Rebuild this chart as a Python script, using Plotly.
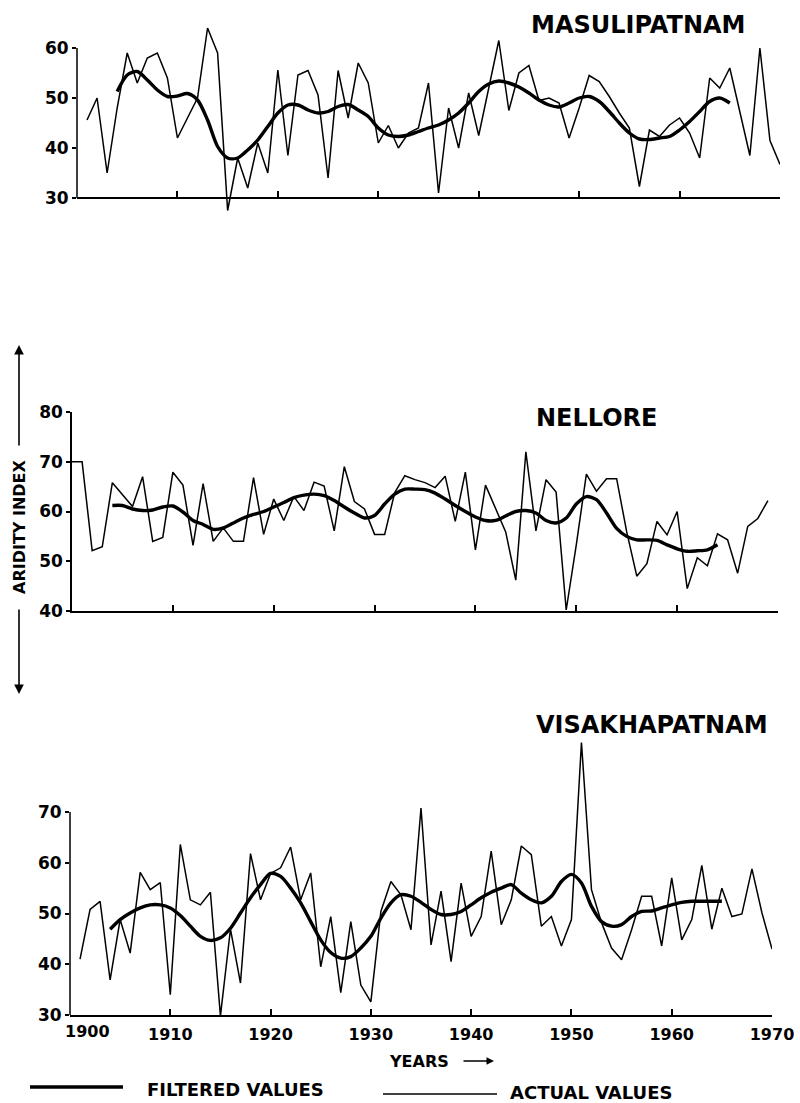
import plotly.graph_objects as go

W, H = 800, 1103

# ---------------- data ----------------
mas_years = list(range(1901, 1971))
mas_actual = [45.6, 50, 35, 48, 59, 53, 58, 59, 54, 42,
              46, 50, 64, 59, 27.5, 38, 32, 41, 35, 55.6,
              38.5, 54.6, 55.5, 50.6, 34, 55.5, 46, 57, 53, 41,
              44.5, 40, 43, 44, 53, 31, 48, 40, 51, 42.5,
              52, 61.5, 47.5, 55, 56.5, 49.5, 50, 49, 42, 48,
              54.5, 53.3, 50.3, 47, 44, 32.3, 43.6, 42.3, 44.6, 46,
              43, 38, 54, 52, 56, 47, 38.5, 60, 41.5, 36.7]
mas_f_years = list(range(1904, 1966))
mas_filtered = [51.3, 54.6, 55.3, 53.6, 51.6, 50.3, 50.4, 50.9, 49.6, 45.6,
                40.3, 38, 38, 39.6, 41.6, 44.3, 47, 48.6, 48.6, 47.6,
                47, 47.3, 48.3, 48.7, 47.6, 46.3, 44, 42.6, 42.3, 42.6,
                43.3, 44, 44.6, 45.6, 47, 49, 51.3, 52.8, 53.4, 53,
                52.2, 51, 49.6, 48.6, 48.2, 49, 50, 50.3, 49.3, 47.3,
                45, 43, 41.8, 41.7, 42, 42.3, 43.6, 45.3, 47.3, 49.3,
                50, 49]

nel_years = list(range(1900, 1970))
nel_actual = [70, 70, 52.1, 52.9, 65.8, 63.5, 61, 67, 54, 54.8,
              67.9, 65.3, 53.2, 65.6, 54, 56.7, 54, 54, 66.8, 55.4,
              62.5, 58.2, 63, 60.2, 65.9, 65.1, 56.1, 69, 62, 60.5,
              55.4, 55.4, 63.8, 67.2, 66.4, 65.8, 64.8, 67.1, 58, 67.9,
              52.3, 65.3, 60.5, 55.9, 46.2, 72, 56.1, 66.4, 63.9, 40.2,
              53.3, 67.5, 64.1, 66.6, 66.6, 55.9, 47, 49.5, 58, 55.3,
              60, 44.5, 50.7, 49.1, 55.5, 54.3, 47.6, 57, 58.6, 62.2]
nel_f_years = list(range(1904, 1965))
nel_filtered = [61.2, 61.2, 60.5, 60.2, 60.3, 60.9, 61.1, 59.9, 58.2, 57.4,
                56.4, 56.7, 57.7, 58.7, 59.4, 60, 60.9, 61.8, 62.8, 63.3,
                63.5, 63.2, 62.2, 60.9, 59.7, 58.7, 59.2, 61.5, 63.5, 64.5,
                64.5, 64.4, 63.7, 62.5, 61.2, 60, 58.9, 58.2, 58.2, 59.1,
                60, 60.2, 59.7, 58.2, 57.7, 58.7, 61.5, 63, 62.4, 59.7,
                56.6, 55, 54.3, 54.3, 54.2, 53.3, 52.5, 52, 52.1, 52.3,
                53.3]

vis_years = list(range(1901, 1971))
vis_actual = [41, 50.8, 52.4, 36.9, 48.8, 42.2, 58.1, 54.7, 56.1, 34,
              63.6, 52.7, 51.7, 54.2, 29.8, 46.9, 36.3, 61.8, 52.7, 57.9,
              59, 63.1, 52.7, 58, 39.5, 49.4, 34.4, 48.4, 35.9, 32.6,
              50.4, 56.3, 53.7, 46.8, 70.8, 43.8, 54.4, 40.5, 56, 45.5,
              49.4, 62.3, 47.8, 52.7, 63.3, 61.6, 47.5, 49.4, 43.6, 48.8,
              83.7, 54.7, 48.2, 43.2, 40.9, 46.8, 53.4, 53.4, 43.6, 57,
              44.8, 48.8, 59.5, 46.9, 55, 49.4, 49.9, 58.8, 50.1, 43]
vis_f_years = list(range(1904, 1966))
vis_filtered = [46.9, 48.8, 50.1, 51.1, 51.7, 51.7, 51.1, 49.6, 47.5, 45.5,
                44.7, 45.2, 47.1, 50.1, 53.1, 55.7, 57.9, 57.3, 55, 52.1,
                48.4, 44.8, 42.3, 41.2, 41.5, 43.2, 45.5, 49.1, 52.1, 53.7,
                53.4, 52.2, 50.8, 49.8, 49.8, 50.4, 51.7, 53.1, 54.2, 55,
                55.7, 54, 52.7, 52.1, 53.4, 56.3, 57.7, 56, 51.4, 48.4,
                47.5, 47.8, 49.4, 50.4, 50.5, 51.1, 51.7, 52.2, 52.4, 52.4,
                52.4, 52.4]

x_ticks = [1900, 1910, 1920, 1930, 1940, 1950, 1960, 1970]
x_ticktext = ["", "1910", "1920", "1930", "1940", "1950", "1960", "1970"]
first_year_label = "1900"
mas_yticks = [30, 40, 50, 60]
nel_yticks = [40, 50, 60, 70, 80]
vis_yticks = [30, 40, 50, 60, 70]
titles = ["MASULIPATNAM", "NELLORE", "VISAKHAPATNAM"]

# ---------------- figure ----------------
def px(x):
    return x / W


def py(y):
    return 1 - y / H


FONT = "DejaVu Sans"
fig = go.Figure()

panels = [
    ("x", "y", mas_years, mas_actual, mas_f_years, mas_filtered),
    ("x2", "y2", nel_years, nel_actual, nel_f_years, nel_filtered),
    ("x3", "y3", vis_years, vis_actual, vis_f_years, vis_filtered),
]
for xa, ya, yrs, act, fyrs, filt in panels:
    fig.add_trace(go.Scatter(x=yrs, y=act, mode="lines", xaxis=xa, yaxis=ya,
                             line=dict(color="black", width=1.5),
                             name="ACTUAL VALUES", showlegend=False))
    fig.add_trace(go.Scatter(x=fyrs, y=filt, mode="lines", xaxis=xa, yaxis=ya,
                             line=dict(color="black", width=3.4, shape="spline", smoothing=0.8),
                             name="FILTERED VALUES", showlegend=False))

xcommon = dict(range=[1900, 1970], tickvals=x_ticks, ticktext=x_ticktext,
               ticks="inside", ticklen=6, automargin=False,
               tickwidth=1.5, tickcolor="black", showline=True, linecolor="black",
               linewidth=1.5, showgrid=False, zeroline=False, fixedrange=True)
ycommon = dict(ticks="outside", ticklen=4, tickwidth=1.5, tickcolor="black",
               showgrid=False, zeroline=False, fixedrange=True, automargin=False,
               tickfont=dict(family=FONT, size=17, color="black", weight="bold"))

fig.update_layout(
    template="none",
    width=W, height=H,
    margin=dict(l=0, r=0, t=0, b=0, pad=0, autoexpand=False),
    paper_bgcolor="white", plot_bgcolor="white",
    font=dict(family=FONT, color="black"),
    xaxis=dict(**xcommon, domain=[px(77), px(780)], anchor="free",
               position=py(198), showticklabels=False),
    yaxis=dict(**ycommon, domain=[py(223), py(18)], range=[25, 66],
               tickvals=mas_yticks, anchor="x", showline=False),
    xaxis2=dict(**xcommon, domain=[px(72), px(778)], anchor="y2", showticklabels=False),
    yaxis2=dict(**ycommon, domain=[py(611), py(412)], range=[40, 80],
                tickvals=nel_yticks, anchor="x2", showline=True,
                linecolor="black", linewidth=1.5),
    xaxis3=dict(**xcommon, domain=[px(70), px(772)], anchor="y3", showticklabels=True,
                ticklabelstandoff=4,
                tickfont=dict(family=FONT, size=16, color="black", weight="bold")),
    yaxis3=dict(**ycommon, domain=[py(1015), py(730.8)], range=[30, 86],
                tickvals=vis_yticks, anchor="x3", showline=False),
)

shapes = [
    dict(type="line", xref="x domain", yref="y", x0=0, x1=0, y0=30, y1=60,
         line=dict(color="black", width=1.5)),
    dict(type="line", xref="x3 domain", yref="y3", x0=0, x1=0, y0=30, y1=70,
         line=dict(color="black", width=1.5)),
    # legend samples
    dict(type="line", xref="paper", yref="paper", x0=px(30), x1=px(123),
         y0=py(1087), y1=py(1087), line=dict(color="black", width=3.4)),
    dict(type="line", xref="paper", yref="paper", x0=px(383), x1=px(497),
         y0=py(1094), y1=py(1094), line=dict(color="black", width=1.3)),
]
fig.update_layout(shapes=shapes)

ann = []
title_pos = [(638, 25), (597, 418), (652, 725)]
for t, (tx, ty) in zip(titles, title_pos):
    ann.append(dict(text=t, x=px(tx), y=py(ty), xref="paper", yref="paper",
                    showarrow=False, xanchor="center", yanchor="middle",
                    font=dict(family=FONT, size=24, color="black", weight="bold")))

# "1900" label sits right of the y axis in the reference
ann.append(dict(text=first_year_label, x=px(87), y=py(1031), xref="paper", yref="paper",
                showarrow=False, xanchor="center", yanchor="middle",
                font=dict(family=FONT, size=16, color="black", weight="bold")))

ann.append(dict(text="ARIDITY INDEX", x=px(19), y=py(527), xref="paper", yref="paper",
                showarrow=False, textangle=-90, xanchor="center", yanchor="middle",
                font=dict(family=FONT, size=16, color="black", weight="bold")))
# arrows of the y title
ann.append(dict(text="", x=px(19), y=py(345), xref="paper", yref="paper",
                showarrow=True, ax=0, ay=102, arrowhead=2, arrowsize=1.2,
                arrowwidth=1.6, arrowcolor="black"))
ann.append(dict(text="", x=px(19), y=py(694), xref="paper", yref="paper",
                showarrow=True, ax=0, ay=-86, arrowhead=2, arrowsize=1.2,
                arrowwidth=1.6, arrowcolor="black"))

ann.append(dict(text="YEARS", x=px(387), y=py(1061), xref="paper", yref="paper",
                showarrow=False, xanchor="left", yanchor="middle",
                font=dict(family=FONT, size=16, color="black", weight="bold")))
ann.append(dict(text="", x=px(494), y=py(1061), xref="paper", yref="paper",
                showarrow=True, ax=-32, ay=0, arrowhead=2, arrowsize=1,
                arrowwidth=1.5, arrowcolor="black"))

ann.append(dict(text="FILTERED VALUES", x=px(145), y=py(1089), xref="paper", yref="paper",
                showarrow=False, xanchor="left", yanchor="middle",
                font=dict(family=FONT, size=18, color="black", weight="bold")))
ann.append(dict(text="ACTUAL VALUES", x=px(508), y=py(1092), xref="paper", yref="paper",
                showarrow=False, xanchor="left", yanchor="middle",
                font=dict(family=FONT, size=18, color="black", weight="bold")))
fig.update_layout(annotations=ann)

fig.write_html("out.html")
